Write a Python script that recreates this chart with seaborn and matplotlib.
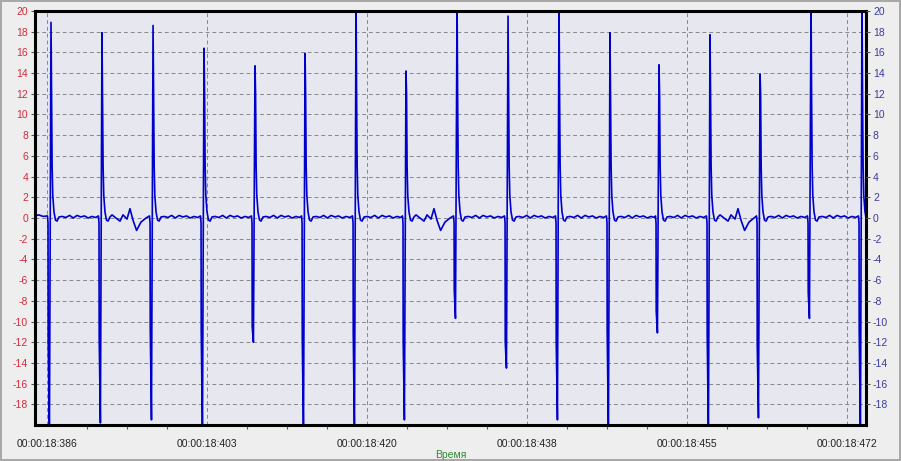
import numpy as np
import pandas as pd
import matplotlib
matplotlib.use("Agg")
import matplotlib.pyplot as plt
import seaborn as sns
from matplotlib.ticker import FixedLocator, AutoMinorLocator

# up-spike times (ms after 00:00:18) and amplitudes
beat_t = [386.43, 391.91, 397.40, 402.88, 408.36, 413.74, 419.22, 424.59, 430.08,
          435.56, 441.04, 446.52, 451.79, 457.27, 462.65, 468.13, 473.61]
beat_peak = [18.9, 17.9, 18.6, 16.4, 14.7, 15.9, 21.0, 14.2, 21.0,
             19.5, 21.0, 17.9, 14.8, 17.7, 13.9, 21.0, 21.0]
beat_trough = [-21.0, -19.8, -19.5, -21.0, -12.0, -21.0, -21.0, -19.5, -9.7,
               -14.5, -19.5, -21.0, -11.1, -21.0, -19.3, -9.7, -21.0]
beat_stub = [-11.8, -11.5, -10.7, -11.0, -10.5, -11.5, -11.0, -12.0, -7.0,
             -12.0, -12.0, -11.0, -9.0, -11.3, -12.3, -7.2, -10.8]

# shape of one spike complex, offsets in ms from the up-spike
complex_dt = [-0.38, -0.32, -0.30, -0.17, 0.0, 0.06, 0.12, 0.19, 0.32, 0.48, 0.65, 0.86]
complex_tail = [12.0, 5.0, 2.2, 0.6, -0.2, -0.3, 0.1]

# flat stretch between spikes
baseline_dt = [1.2, 1.6, 2.0, 2.4, 2.8, 3.2, 3.6, 4.0, 4.4, 4.8]
baseline_v = [0.15, 0.05, 0.25, 0.0, 0.25, 0.1, 0.2, 0.0, 0.15, 0.05]

# stretch with the small wave after beats 2, 8 and 14
twave_beats = [1, 7, 13]
twave_dt = [1.08, 1.5, 1.94, 2.26, 2.69, 3.01, 3.33, 3.72, 4.19, 4.73]
twave_v = [0.3, 0.0, -0.3, 0.3, -0.1, 0.9, -0.2, -1.2, -0.4, 0.0]

start_t = [384.71, 385.1, 385.6]
start_v = [0.2, 0.3, 0.15]

x_ticks = [386.0, 403.2, 420.4, 437.6, 454.8, 472.0]
x_labels = ["00:00:18:386", "00:00:18:403", "00:00:18:420",
            "00:00:18:438", "00:00:18:455", "00:00:18:472"]
y_ticks = list(range(-18, 21, 2))

t_all = list(start_t)
v_all = list(start_v)
for i, tb in enumerate(beat_t):
    vals = [0.2, -0.5, beat_stub[i], beat_trough[i], beat_peak[i]] + complex_tail
    t_all += [tb + d for d in complex_dt]
    v_all += vals
    if i == len(beat_t) - 1:
        break
    if i in twave_beats:
        t_all += [tb + d for d in twave_dt]
        v_all += twave_v
    else:
        t_all += [tb + d for d in baseline_dt]
        v_all += baseline_v

trace = pd.DataFrame({"t": t_all, "v": v_all})

sns.set_theme(style="white")
plt.rcParams["font.family"] = ["Liberation Sans", "DejaVu Sans"]

fig = plt.figure(figsize=(9.01, 4.61), dpi=100, facecolor="#EEEEEE")
fig.patch.set_edgecolor("#A8A8A8")
fig.patch.set_linewidth(1.5)
ax = fig.add_axes([35 / 901, 36 / 461, 831 / 901, 414 / 461])
ax.set_facecolor("#E7E7EF")

sns.lineplot(data=trace, x="t", y="v", ax=ax, color="#0000CC", linewidth=1.2,
             estimator=None, sort=False)

ax.set_xlim(384.71, 474.04)
ax.set_ylim(-20, 20)
ax.xaxis.set_major_locator(FixedLocator(x_ticks))
ax.set_xticklabels(x_labels)
ax.xaxis.set_minor_locator(AutoMinorLocator(4))
ax.set_yticks(y_ticks)
ax.set_yticklabels([str(y) for y in y_ticks])

ax.grid(True, axis="both", which="major", color="#888888", linestyle=(0, (4, 3)), linewidth=0.7)

for s in ax.spines.values():
    s.set_color("black")
    s.set_linewidth(2.2)
    s.set_visible(True)

ax.tick_params(axis="x", which="major", direction="out", length=4, width=0.8,
               color="#555555", labelsize=7.5, labelcolor="#222222", pad=6)
ax.tick_params(axis="x", which="minor", direction="out", length=3, width=0.8,
               color="#555555", bottom=True)
ax.tick_params(axis="y", which="major", direction="out", length=3, width=0.8,
               color="#555555", labelsize=7.5, labelcolor="#D42A3C", pad=2, left=True)

ax.set_xlabel("Время", color="#2E8B2E", fontsize=7.5, labelpad=1)
ax.set_ylabel("")

ax2 = ax.twinx()
ax2.set_ylim(-20, 20)
ax2.set_yticks(y_ticks)
ax2.set_yticklabels([str(y) for y in y_ticks])
ax2.tick_params(axis="y", which="major", direction="out", length=3, width=0.8,
                color="#555555", labelsize=7.5, labelcolor="#3A3AA0", pad=2, right=True)
for s in ax2.spines.values():
    s.set_visible(False)
ax2.grid(False)

fig.savefig("out.png", dpi=100, facecolor=fig.get_facecolor(), edgecolor=fig.patch.get_edgecolor())
